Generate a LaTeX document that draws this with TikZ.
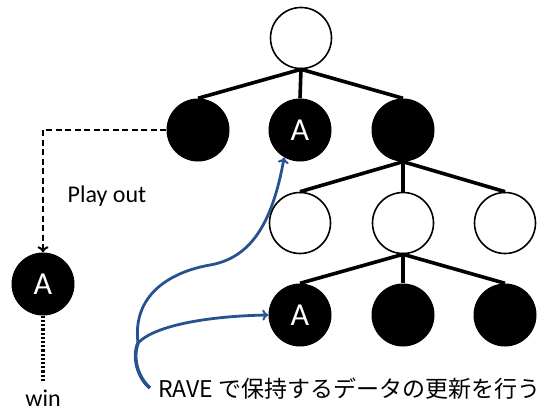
\documentclass[tikz,border=0pt]{standalone}
\usepackage{fontspec}
\setmainfont{Carlito}
\newfontfamily\jp{Noto Sans CJK JP}
\usetikzlibrary{arrows.meta}
\definecolor{raveblue}{RGB}{40,82,142}
\begin{document}
\begin{tikzpicture}[x=1pt,y=-1pt,
  wnode/.style={circle,draw=black,line width=1.6pt,fill=white,minimum size=61pt,inner sep=0pt},
  bnode/.style={circle,fill=black,minimum size=63pt,inner sep=0pt,text=white,font=\fontsize{32}{32}\selectfont},
  edge/.style={line width=3.6pt},
  bluetip/.style={-{To[length=6pt,width=11pt,line width=2pt]}},
  bluearrow/.style={draw=raveblue,line width=2.8pt,bluetip},
  blueline/.style={draw=raveblue,line width=3.6pt}
]
\useasboundingbox (0,0) rectangle (554,412);
% tree nodes
\node[wnode] (r) at (301,38) {};
\node[bnode] (a1) at (198,130) {};
\node[bnode] (a2) at (300,130) {A};
\node[bnode] (a3) at (403,130) {};
\node[wnode] (b1) at (300,223) {};
\node[wnode] (b2) at (403,223) {};
\node[wnode] (b3) at (505,223) {};
\node[bnode] (c1) at (300,315) {A};
\node[bnode] (c2) at (403,315) {};
\node[bnode] (c3) at (505,315) {};
\node[bnode] (p) at (43,284) {A};
% edges
\foreach \ch in {a1,a2,a3} \draw[edge] (r.south) -- (\ch.north);
\foreach \ch in {b1,b2,b3} \draw[edge] (a3.south) -- (\ch.north);
\foreach \ch in {c1,c2,c3} \draw[edge] (b2.south) -- (\ch.north);
% playout
\coordinate (corner) at (43,130);
\draw[line width=2.5pt,dash pattern=on 6pt off 3.5pt,-{To[length=6pt,width=11pt,line width=2pt]}] (a1.west) -- (corner) -- (p.north);
\coordinate (wend) at (43,381);
\draw[line width=3.5pt,dash pattern=on 2.2pt off 2pt] (p.south) -- (wend);
\node[anchor=base,inner sep=0pt,font=\fontsize{24}{24}\selectfont] (win) at (43,406) {win};
\node[anchor=base,inner sep=0pt,font=\fontsize{24}{24}\selectfont] (po) at (107,202) {Play out};
% RAVE text
\node[anchor=west,inner sep=0pt,font=\jp\fontsize{23}{23}\selectfont] (txt) at (158,389) {RAVE で保持するデータの更新を行う};
\coordinate (s) at (150,388);
\coordinate (br) at (138,343);
\coordinate (mid) at (210,265);
\draw[blueline] (s) .. controls (138,378) and (132,358) .. (br);
\draw[bluearrow] (br) .. controls (132,295) and (170,272) .. (mid) .. controls (250,258) and (272,225) .. (a2.240);
\draw[bluearrow] (br) .. controls (155,325) and (210,316) .. (c1.west);
\end{tikzpicture}
\end{document}
